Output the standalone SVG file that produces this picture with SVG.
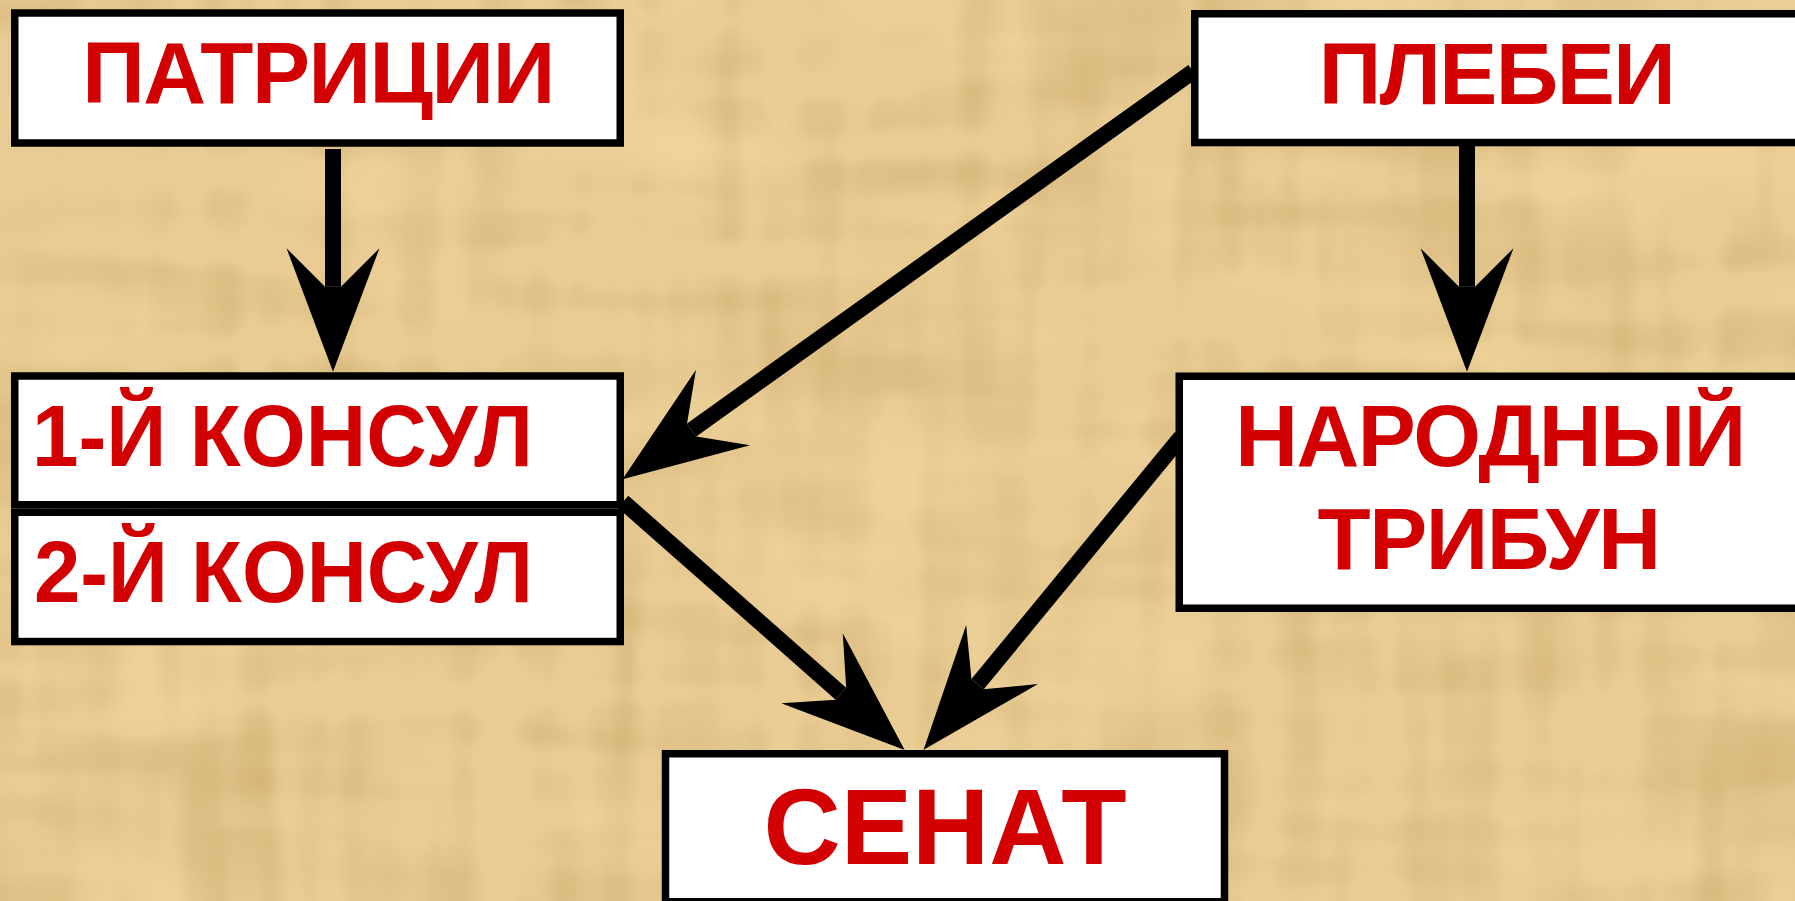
<svg xmlns="http://www.w3.org/2000/svg" width="1795" height="901" viewBox="0 0 1795 901">
<style>
.box{fill:#FFFFFF;stroke:#000000;stroke-width:7.5}
.lbl{font-family:"Liberation Sans",Arial,sans-serif;font-weight:bold;fill:#D20000}
.c{text-anchor:middle}
.t{letter-spacing:-1.5px}
.edge{stroke:#000000;stroke-width:16;stroke-linecap:butt;fill:none;marker-end:url(#ah)}
</style>
<defs>
<marker id="ah" markerUnits="userSpaceOnUse" orient="auto" refX="0" refY="0" viewBox="-40 -48 126 96" markerWidth="126" markerHeight="96" overflow="visible">
<path d="M85,0 L-38.5,-46.5 L0,-8 L0,8 L-38.5,46.5 Z" fill="#000000"/>
</marker>
<filter id="tex" x="0" y="0" width="100%" height="100%" color-interpolation-filters="sRGB">
<feTurbulence type="fractalNoise" baseFrequency="0.003 0.025" numOctaves="2" seed="4" result="h"/>
<feTurbulence type="fractalNoise" baseFrequency="0.025 0.003" numOctaves="2" seed="9" result="v"/>
<feComposite in="h" in2="v" operator="arithmetic" k2="0.5" k3="0.5" result="n"/>
<feGaussianBlur in="n" stdDeviation="5" result="b"/>
<feColorMatrix in="b" type="matrix" values="0 0 0 0 0.76  0 0 0 0 0.62  0 0 0 0 0.38  1.5 0 0 0 -0.66"/>
</filter>
<filter id="tex2" x="0" y="0" width="100%" height="100%" color-interpolation-filters="sRGB">
<feTurbulence type="fractalNoise" baseFrequency="0.004 0.01" numOctaves="2" seed="21" result="n"/>
<feGaussianBlur in="n" stdDeviation="6" result="b"/>
<feColorMatrix in="b" type="matrix" values="0 0 0 0 0.98  0 0 0 0 0.88  0 0 0 0 0.66  -1.8 0 0 0 0.95"/>
</filter>
</defs>
<g id="background">
<rect x="0" y="0" width="1795" height="901" fill="#E8CC93"/>
<rect x="0" y="0" width="1795" height="901" filter="url(#tex)"/>
<rect x="0" y="0" width="1795" height="901" filter="url(#tex2)" opacity="0.55"/>
</g>
<g id="connectors">
<line class="edge" x1="333" y1="149" x2="333" y2="286.7"/>
<line class="edge" x1="1467" y1="134" x2="1467" y2="286.7"/>
<line class="edge" x1="1193" y1="71.6" x2="691.7" y2="429.9"/>
<line class="edge" x1="623" y1="501.7" x2="840.9" y2="693.7"/>
<line class="edge" x1="1181" y1="437" x2="977.6" y2="684.2"/>
</g>
<g id="patricii">
<rect class="box" x="14.75" y="13" width="605.5" height="130"/>
<text class="lbl c t" x="318" y="103.3" font-size="87">ПАТРИЦИИ</text>
</g>
<g id="plebei">
<rect class="box" x="1194.75" y="13.75" width="605.5" height="128.8"/>
<text class="lbl c t" x="1496.5" y="103.6" font-size="87">ПЛЕБЕИ</text>
</g>
<g id="consul1">
<rect class="box" x="14.75" y="376" width="605.5" height="128.75"/>
<text class="lbl" x="32" y="466" font-size="87" textLength="501" lengthAdjust="spacingAndGlyphs">1-Й КОНСУЛ</text>
</g>
<g id="consul2">
<rect class="box" x="14.75" y="512.25" width="605.5" height="129.3"/>
<text class="lbl" x="34" y="602.3" font-size="87" textLength="499" lengthAdjust="spacingAndGlyphs">2-Й КОНСУЛ</text>
</g>
<g id="tribune">
<rect class="box" x="1179.25" y="376.25" width="625" height="232"/>
<text class="lbl c t" x="1490" y="465.8" font-size="87">НАРОДНЫЙ</text>
<text class="lbl c t" x="1488.5" y="568.6" font-size="87">ТРИБУН</text>
</g>
<g id="senat">
<rect class="box" x="665.5" y="753.75" width="559" height="148"/>
<text class="lbl c" x="945" y="864.3" font-size="107">СЕНАТ</text>
</g>
</svg>
